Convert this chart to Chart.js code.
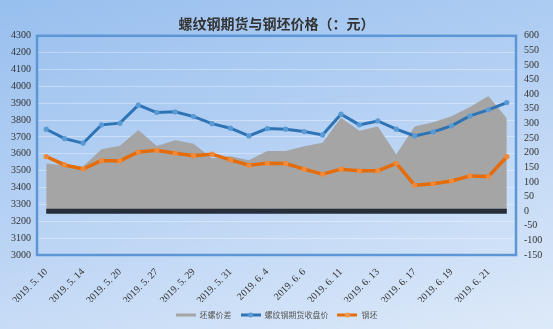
<!DOCTYPE html>
<html>
<head>
<meta charset="utf-8">
<script src="https://cdn.jsdelivr.net/npm/chart.js@4"></script>
<style>
  html, body { margin: 0; padding: 0; }
  #wrap {
    width: 553px; height: 329px;
    background: linear-gradient(165deg, #97bfee 0%, #b9d3f4 50%, #deeaf9 100%);
  }
</style>
</head>
<body>
<div id="wrap"><canvas id="steelChart" width="553" height="329"></canvas></div>
<script>
// data
const dates = ['2019. 5. 10', '2019. 5. 13', '2019. 5. 14', '2019. 5. 16', '2019. 5. 20', '2019. 5. 23',
  '2019. 5. 27', '2019. 5. 28', '2019. 5. 29', '2019. 5. 30', '2019. 5. 31', '2019. 6. 3', '2019. 6. 4',
  '2019. 6. 5', '2019. 6. 6', '2019. 6. 10', '2019. 6. 11', '2019. 6. 12', '2019. 6. 13', '2019. 6. 14',
  '2019. 6. 17', '2019. 6. 18', '2019. 6. 19', '2019. 6. 20', '2019. 6. 21', '2019. 6. 24'];
const spread = [163, 156, 153, 212, 224, 278, 223, 243, 231, 181, 188, 174, 206,
  206, 222, 234, 320, 275, 290, 195, 290, 304, 325, 356, 394, 318];
const futures = [3746, 3690, 3663, 3772, 3782, 3889, 3845, 3849, 3821, 3779, 3752, 3706, 3750,
  3746, 3732, 3712, 3835, 3772, 3795, 3746, 3706, 3730, 3766, 3825, 3861, 3904];
const billet = [3584, 3534, 3510, 3560, 3558, 3611, 3621, 3604, 3589, 3598, 3564, 3532, 3544,
  3542, 3509, 3479, 3509, 3499, 3499, 3544, 3414, 3423, 3439, 3469, 3465, 3583];
const baseline = dates.map(() => 0);
const seriesNames = ['坯螺价差', '螺纹钢期货收盘价', '钢坯'];

const serif = "'Liberation Serif', 'DejaVu Serif', serif";
const cjk = "'Noto Sans CJK SC', sans-serif";

// small legend icons: line with optional dot
function makeIcon(color, dotColor) {
  const c = document.createElement('canvas');
  c.width = 20; c.height = 8;
  const g = c.getContext('2d');
  g.strokeStyle = color; g.lineWidth = 3;
  g.beginPath(); g.moveTo(0, 4); g.lineTo(20, 4); g.stroke();
  if (dotColor) {
    g.fillStyle = dotColor;
    g.beginPath(); g.arc(10, 4, 2.5, 0, Math.PI * 2); g.fill();
  }
  return c;
}
const icons = [makeIcon('#a5a5a5'), makeIcon('#2e74b5', '#5b9bd5'), makeIcon('#e46c0a', '#f39a52')];

const frame = {
  id: 'frame',
  afterDatasetsDraw(chart) {
    const a = chart.chartArea, ctx = chart.ctx;
    ctx.save();
    ctx.strokeStyle = '#5d96d5';
    ctx.lineWidth = 2.5;
    ctx.strokeRect(a.left, a.top, a.right - a.left, a.bottom - a.top);
    ctx.restore();
  }
};

const ctx = document.getElementById('steelChart').getContext('2d');
new Chart(ctx, {
  type: 'line',
  data: {
    labels: dates,
    datasets: [{
      label: seriesNames[0],
      data: spread,
      yAxisID: 'y2',
      fill: 'origin',
      backgroundColor: '#a5a5a5',
      borderWidth: 0,
      pointRadius: 0,
      order: 3
    }, {
      label: seriesNames[1],
      data: futures,
      yAxisID: 'y',
      borderColor: '#2e74b5',
      borderWidth: 3,
      pointRadius: 2.6,
      pointBorderWidth: 0,
      pointBackgroundColor: '#5b9bd5',
      order: 0
    }, {
      label: seriesNames[2],
      data: billet,
      yAxisID: 'y',
      borderColor: '#e46c0a',
      borderWidth: 3.5,
      pointRadius: 2.6,
      pointBorderWidth: 0,
      pointBackgroundColor: '#f0893a',
      order: 1
    }, {
      label: 'base',
      data: baseline,
      yAxisID: 'y2',
      borderColor: '#262e3a',
      borderWidth: 5,
      pointRadius: 0,
      order: 2
    }]
  },
  options: {
    responsive: false,
    animation: false,
    layout: { padding: { left: 0, right: 0, top: 0, bottom: 0 } },
    elements: { line: { tension: 0 } },
    scales: {
      x: {
        offset: true,
        grid: { display: false },
        border: { display: false },
        ticks: {
          autoSkip: false,
          maxRotation: 45, minRotation: 45,
          color: '#333333',
          font: { family: serif, size: 10 },
          callback: function (v, i) { return i % 2 === 0 ? this.getLabelForValue(v) : ''; }
        },
        afterFit(s) { s.height = 47; }
      },
      y: {
        position: 'left',
        min: 3000, max: 4300,
        ticks: { stepSize: 100, autoSkip: false, color: '#333333', font: { family: serif, size: 10 }, padding: 6,
          callback: v => String(v) },
        grid: { color: 'rgba(255,255,255,0.35)', drawTicks: false },
        border: { display: false },
        afterFit(s) { s.width = 37; }
      },
      y2: {
        position: 'right',
        min: -150, max: 600,
        ticks: { stepSize: 50, autoSkip: false, color: '#333333', font: { family: serif, size: 10 }, padding: 8,
          callback: v => String(v) },
        grid: { display: false, drawTicks: false },
        border: { display: false },
        afterFit(s) { s.width = 37; }
      }
    },
    plugins: {
      title: {
        display: true,
        text: '螺纹钢期货与钢坯价格（：元）',
        color: '#333333',
        font: { family: cjk, size: 14, weight: 'bold' },
        padding: { top: 15, bottom: 4 }
      },
      legend: {
        position: 'bottom',
        labels: {
          usePointStyle: true,
          pointStyleWidth: 20,
          boxHeight: 8,
          padding: 9,
          color: '#595959',
          font: { family: cjk, size: 8 },
          filter: item => item.datasetIndex < 3,
          sort: (a, b) => a.datasetIndex - b.datasetIndex,
          generateLabels(chart) {
            const items = Chart.defaults.plugins.legend.labels.generateLabels(chart);
            items.forEach(it => { if (icons[it.datasetIndex]) it.pointStyle = icons[it.datasetIndex]; });
            return items;
          }
        }
      },
      tooltip: { enabled: false }
    }
  },
  plugins: [frame]
});
</script>
</body>
</html>
